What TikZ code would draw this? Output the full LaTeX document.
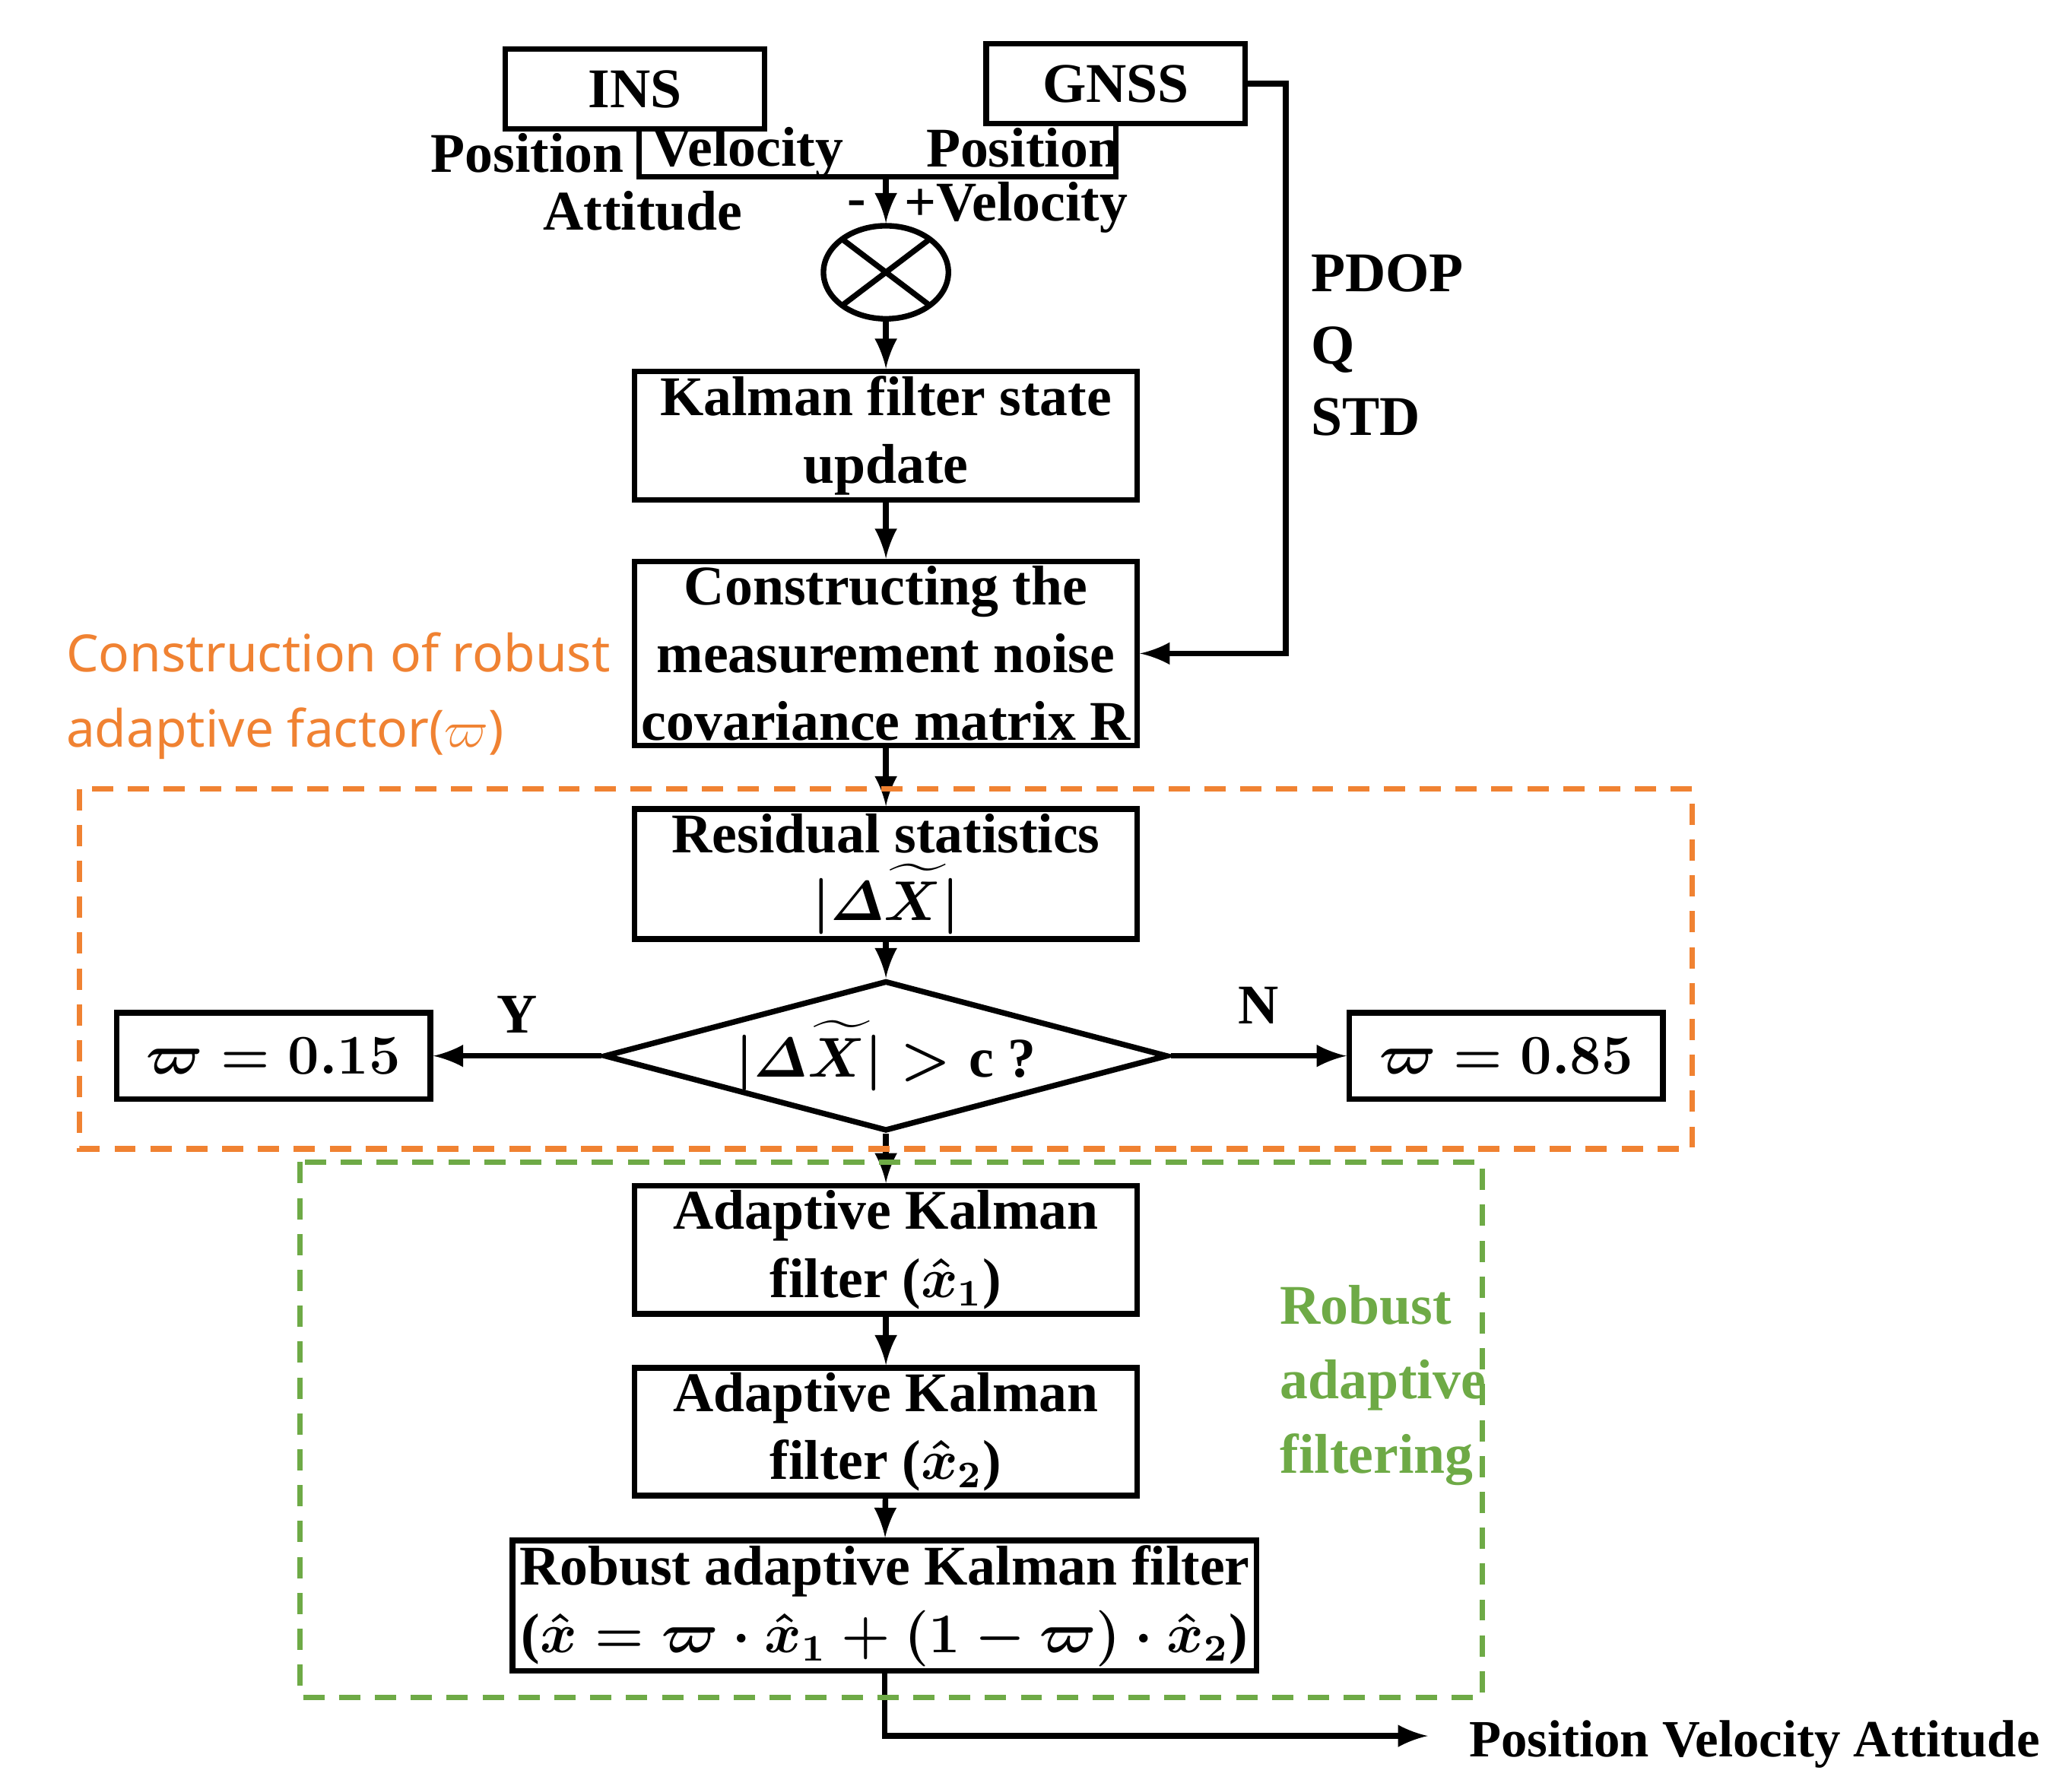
\documentclass[tikz,border=0pt]{standalone}
\usepackage{amsmath}
\usepackage{amssymb}
\usepackage{bm}
\usepackage{fontspec}
\setmainfont{Liberation Serif}
\newfontfamily\sansfont{Noto Sans}
\usetikzlibrary{arrows,shapes,positioning}
\definecolor{orng}{RGB}{240,130,50}
\definecolor{grn}{RGB}{110,170,70}

\begin{document}
\begin{tikzpicture}[x=0.01cm,y=-0.01cm,line width=1.2pt,>=latex,font=\fontsize{12}{14.5}\selectfont\bfseries\boldmath]
        \tikzstyle{block}=[rectangle, draw=black, align=center, minimum width=3.78cm, minimum height=0.96cm, inner sep=1pt]
        \tikzstyle{small}=[rectangle, draw=black, minimum width=1.95cm, minimum height=0.6cm]
        \tikzstyle{lbl}=[inner sep=0pt]
        \tikzstyle{group}=[dashed, dash pattern=on 1.6mm off 1.1mm]
        \useasboundingbox (0,0) rectangle (1560,1342);
        \node [small] (ins) at (478,67) {INS};
        \node [small] (gnss) at (840,63) {GNSS};
        \node [draw, ellipse, minimum width=0.94cm, minimum height=0.7cm] (mul) at (667,205) {};
        \draw (mul.center) +(-33,-25) -- +(33,25) (mul.center) +(-33,25) -- +(33,-25);
        \coordinate (j) at (667,133);
        \draw (481,97) -- (481,133) -- (j);
        \draw (840,93) -- (840,133) -- (j);
        \draw[->] (j) -- (mul.north);
        \node [lbl, anchor=east] at (472,115) {Position};
        \node [lbl] at (563,115) {Velocity};
        \node [lbl] at (770,111) {Position};
        \node [lbl] at (484,159) {Attitude};
        \node [lbl] at (645,157) {-};
        \node [lbl, anchor=west] at (679,156) {+Velocity};
        \node [block] (kf) at (667,328) {Kalman filter state\\update};
        \node [block, minimum height=1.37cm] (cons) at (667,492) {Constructing the\\measurement noise\\covariance matrix R};
        \node [block] (res) at (667,658) {Residual statistics\\$|\varDelta\widetilde{X}|$};
        \node [diamond, draw, aspect=3.75, minimum width=3.98cm, minimum height=1.06cm, inner sep=0pt] (dec) at (667,795) {$|\varDelta\widetilde{X}| > \mathrm{c}$ ?};
        \node [rectangle, draw, minimum width=2.36cm, minimum height=0.65cm] (lo) at (206,795) {$\bm{\varpi} = 0.15$};
        \node [rectangle, draw, minimum width=2.36cm, minimum height=0.65cm] (hi) at (1134,795) {$\bm{\varpi} = 0.85$};
        \node [block] (ak1) at (667,941) {Adaptive Kalman\\filter ($\hat{\bm{x}}_1$)};
        \node [block] (ak2) at (667,1078) {Adaptive Kalman\\filter ($\hat{\bm{x}}_2$)};
        \node [block, minimum width=5.6cm, minimum height=0.95cm] (rak) at (666,1209) {Robust adaptive Kalman filter\\($\hat{\bm{x}} = \bm{\varpi}\cdot\hat{\bm{x}}_1 + (1-\bm{\varpi})\cdot\hat{\bm{x}}_2$)};
        \draw[->] (mul.south) -- (kf);
        \draw[->] (kf) -- (cons);
        \draw[->] (cons) -- (res);
        \draw[->] (res) -- (dec);
        \draw[->] (dec.west) -- node[above=1pt] {Y} (lo);
        \draw[->] (dec.east) -- node[above=3pt] {N} (hi);
        \draw[->] (dec.south) -- (ak1);
        \draw[->] (ak1) -- (ak2);
        \draw[->] (ak2) -- (rak);
        \draw[->] (gnss.east) -- (968,63) |- (cons.east);
        \node [lbl, anchor=west, align=left] at (985,260) {PDOP\\[0.3mm]Q\\[0.3mm]STD};
        \coordinate (out) at (1075,1307);
        \draw[->] (rak.south) -- (666,1307) -- (out);
        \node [lbl, anchor=west, font=\fontsize{11.2}{13}\selectfont\bfseries] at (1104,1313) {Position Velocity Attitude};
        % dashed groups
        \draw[orng, group] (60,594) rectangle (1274,865);
        \node [orng, anchor=west, align=left, font=\fontsize{11}{16}\selectfont\sansfont] at (36,524) {Construction of robust\\adaptive factor($\varpi$)};
        \draw[grn, group] (226,875) rectangle (1116,1278);
        \node [grn, anchor=west, align=left] at (950,1043) {Robust\\[0.5mm]adaptive\\[0.5mm]filtering};
\end{tikzpicture}
\end{document}
